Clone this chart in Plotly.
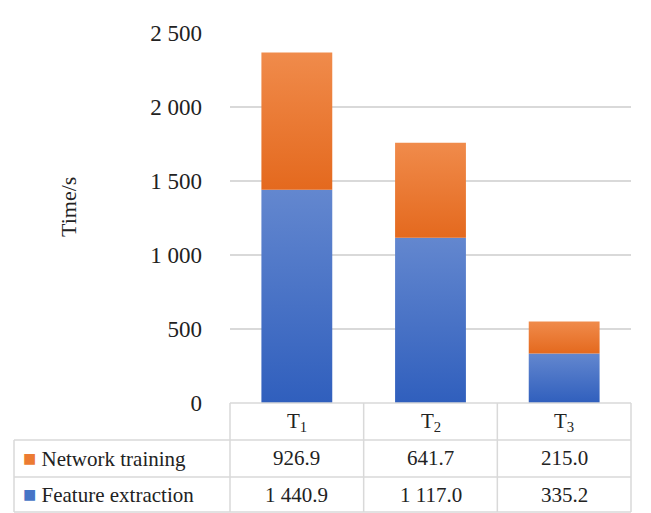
import plotly.graph_objects as go

# Data
categories = ["T<sub>1</sub>", "T<sub>2</sub>", "T<sub>3</sub>"]
feature_extraction = [1440.9, 1117.0, 335.2]
network_training = [926.9, 641.7, 215.0]
series_names = ["Network training", "Feature extraction"]
y_ticks = [0, 500, 1000, 1500, 2000, 2500]

# Gradient fills (bottom colour, top colour) for each series
BLUE_GRAD = ("#305fbd", "#6387cf")
ORANGE_GRAD = ("#e4691e", "#f08b4b")
BLUE = "#4674c6"
ORANGE = "#ec7b32"
GRID = "#d9d9d9"
FONT = "Times New Roman, Liberation Serif, serif"
BAR_W = 0.53

W, H = 651, 513
ML, MR, MT, MB = 230, 20, 33, 110
PW, PH = W - ML - MR, H - MT - MB


def px_x(x):
    return (x - ML) / PW


def px_y(y):
    return (H - MB - y) / PH


def fmt(v, dec):
    return f"{v:,.{dec}f}".replace(",", " ")


fig = go.Figure()


def add_stack_segment(i, base, value, grad, name):
    """Draw one stacked bar segment as a filled rectangle with a vertical gradient."""
    x0, x1 = i - BAR_W / 2, i + BAR_W / 2
    top = base + value
    fig.add_trace(go.Scatter(
        x=[x0, x1, x1, x0, x0], y=[base, base, top, top, base],
        mode="lines", fill="toself", line=dict(width=0),
        fillgradient=dict(type="vertical", start=base, stop=top,
                          colorscale=[[0, grad[0]], [1, grad[1]]]),
        name=name, hoverinfo="skip", showlegend=False))


for i in range(len(categories)):
    add_stack_segment(i, 0, feature_extraction[i], BLUE_GRAD, series_names[1])
    add_stack_segment(i, feature_extraction[i], network_training[i], ORANGE_GRAD, series_names[0])

fig.update_layout(
    width=W, height=H,
    margin=dict(l=ML, r=MR, t=MT, b=MB),
    showlegend=False,
    plot_bgcolor="white", paper_bgcolor="white",
    font=dict(family=FONT, size=20, color="#222222"),
)
fig.update_xaxes(range=[-0.5, len(categories) - 0.5], showticklabels=False,
                 showgrid=False, zeroline=False, showline=False, fixedrange=True)
fig.update_yaxes(range=[0, 2500], tickvals=y_ticks,
                 ticktext=[fmt(v, 0) for v in y_ticks],
                 tickfont=dict(family=FONT, size=23),
                 showgrid=True, gridcolor=GRID, gridwidth=1.5,
                 zeroline=False, showline=False, ticks="",
                 ticklabelstandoff=27)

# Data table under the plot
line = dict(color=GRID, width=1.5)
y_top, y_r1, y_r2, y_bot = px_y(403), px_y(440), px_y(477), px_y(512)
x_left = px_x(14)
col_edges = [i / len(categories) for i in range(len(categories) + 1)]

shapes = []
shapes.append(dict(type="line", xref="paper", yref="paper", x0=0, x1=1, y0=y_top, y1=y_top, line=line))
for yy in (y_r1, y_r2, y_bot):
    shapes.append(dict(type="line", xref="paper", yref="paper", x0=x_left, x1=1, y0=yy, y1=yy, line=line))
for xx in col_edges:
    shapes.append(dict(type="line", xref="paper", yref="paper", x0=xx, x1=xx, y0=y_top, y1=y_bot, line=line))
shapes.append(dict(type="line", xref="paper", yref="paper", x0=x_left, x1=x_left, y0=y_r1, y1=y_bot, line=line))

tfont = dict(family=FONT, size=21)
annotations = [dict(x=px_x(68), y=px_y(207), xref="paper", yref="paper",
                    text="Time/s", textangle=-90, showarrow=False,
                    xanchor="center", yanchor="middle", font=dict(family=FONT, size=22))]
for i, c in enumerate(categories):
    cx = (col_edges[i] + col_edges[i + 1]) / 2
    annotations.append(dict(x=cx, y=(y_top + y_r1) / 2, xref="paper", yref="paper",
                            xanchor="center", yanchor="middle",
                            text=c, showarrow=False, font=tfont))
rows = [(series_names[0], network_training, ORANGE, (y_r1 + y_r2) / 2),
        (series_names[1], feature_extraction, BLUE, (y_r2 + y_bot) / 2)]
for name, vals, color, yc in rows:
    annotations.append(dict(x=px_x(21), y=yc, xref="paper", yref="paper",
                            xanchor="left", yanchor="middle",
                            text=f"<span style='color:{color};font-size:22px'>■</span> {name}",
                            showarrow=False, font=tfont))
    for i, v in enumerate(vals):
        cx = (col_edges[i] + col_edges[i + 1]) / 2
        annotations.append(dict(x=cx, y=yc, xref="paper", yref="paper",
                                xanchor="center", yanchor="middle",
                                text=fmt(v, 1), showarrow=False, font=tfont))

fig.update_layout(shapes=shapes, annotations=annotations)
fig.write_html("out.html")
